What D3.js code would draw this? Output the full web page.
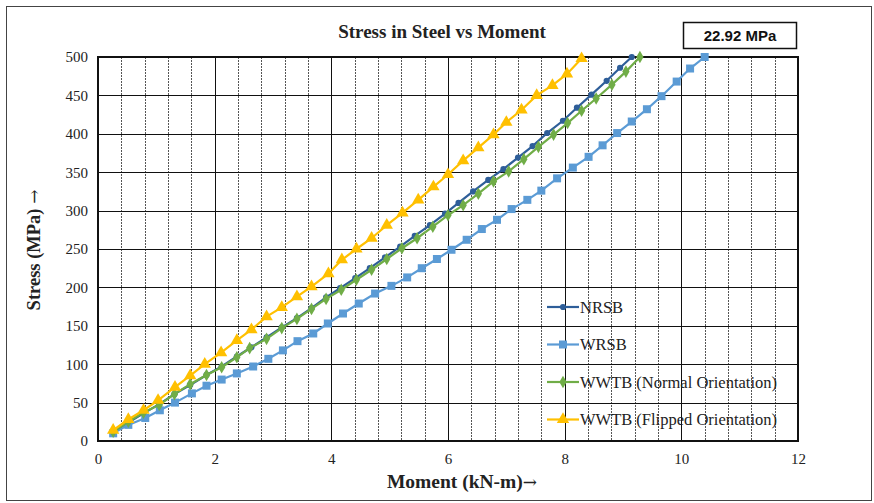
<!DOCTYPE html>
<html>
<head>
<meta charset="utf-8">
<script src="https://cdn.jsdelivr.net/npm/d3@7/dist/d3.min.js"></script>
<style>
    html, body { margin: 0; padding: 0; background: #fff; }
    svg { display: block; }
</style>
</head>
<body>
<div id="chart"></div>
<script>
(function () {

    'use strict';

    // < data >

    var seriesNames = ['NRSB', 'WRSB', 'WWTB (Normal Orientation)', 'WWTB (Flipped Orientation)'];

    var nrsbMoment = [0.26, 0.52, 0.78, 1.05, 1.31, 1.58, 1.86, 2.12, 2.38, 2.63, 2.89, 3.15, 3.41, 3.66, 3.91, 4.15, 4.41, 4.66, 4.92, 5.18, 5.43, 5.69, 5.95, 6.18, 6.43, 6.69, 6.95, 7.2, 7.45, 7.7, 7.97, 8.21, 8.46, 8.72, 8.95, 9.15];
    var nrsbStress = [12, 24, 36, 48, 61, 73, 86, 97, 110, 122, 135, 148, 160, 173, 187, 199, 212, 225, 239, 253, 267, 281, 296, 310, 325, 340, 354, 369, 384, 401, 417, 434, 451, 469, 486, 500];

    var wrsbMoment = [0.26, 0.52, 0.81, 1.06, 1.32, 1.61, 1.86, 2.12, 2.38, 2.66, 2.92, 3.17, 3.42, 3.69, 3.94, 4.2, 4.47, 4.75, 5.03, 5.3, 5.55, 5.81, 6.06, 6.32, 6.58, 6.84, 7.09, 7.36, 7.6, 7.87, 8.14, 8.41, 8.65, 8.9, 9.15, 9.41, 9.66, 9.92, 10.15, 10.4];
    var wrsbStress = [10, 21, 30, 40, 50, 62, 72, 80, 88, 97, 107, 118, 130, 140, 153, 166, 179, 192, 202, 213, 225, 237, 249, 262, 276, 288, 302, 314, 326, 342, 356, 370, 385, 401, 416, 432, 449, 468, 485, 500];

    var wwtbNormalMoment = [0.26, 0.52, 0.78, 1.05, 1.31, 1.58, 1.86, 2.12, 2.38, 2.6, 2.89, 3.15, 3.41, 3.66, 3.91, 4.17, 4.43, 4.69, 4.95, 5.21, 5.47, 5.74, 6.0, 6.26, 6.52, 6.78, 7.04, 7.3, 7.55, 7.81, 8.05, 8.29, 8.54, 8.81, 9.05, 9.29];
    var wwtbNormalStress = [12, 25, 37, 47, 61, 74, 86, 96, 109, 121, 133, 147, 159, 172, 185, 197, 210, 223, 237, 251, 264, 279, 294, 307, 322, 338, 351, 367, 383, 399, 414, 430, 446, 464, 481, 500];

    var wwtbFlippedMoment = [0.26, 0.52, 0.78, 1.03, 1.32, 1.58, 1.83, 2.11, 2.38, 2.63, 2.89, 3.15, 3.41, 3.66, 3.95, 4.18, 4.43, 4.69, 4.95, 5.22, 5.49, 5.75, 6.0, 6.26, 6.52, 6.78, 7.0, 7.26, 7.52, 7.79, 8.04, 8.29];
    var wwtbFlippedStress = [14, 28, 40, 53, 70, 85, 100, 115, 131, 145, 162, 174, 188, 201, 218, 236, 250, 264, 281, 297, 314, 331, 347, 365, 382, 399, 415, 431, 450, 463, 478, 498];

    var xTicks = [0, 2, 4, 6, 8, 10, 12];
    var yTicks = [0, 50, 100, 150, 200, 250, 300, 350, 400, 450, 500];
    var xMinorStep = 0.4;

    var titleText = 'Stress in Steel vs Moment';
    var boxText = '22.92 MPa';
    var xLabelText = 'Moment (kN-m)';
    var yLabelText = 'Stress (MPa) ';
    var arrowText = '\u2192';

    // < helping functions >

    var zip = function (xs, ys) {
        return xs.map(function (x, i) {
            return {x: x, y: ys[i]};
        });
    };

    var series = [
        {name: seriesNames[0], data: zip(nrsbMoment, nrsbStress), color: '#2E5E99', symbol: d3.symbolCircle, size: 30},
        {name: seriesNames[1], data: zip(wrsbMoment, wrsbStress), color: '#5B9BD5', symbol: d3.symbolSquare, size: 64},
        {name: seriesNames[2], data: zip(wwtbNormalMoment, wwtbNormalStress), color: '#70AD47', symbol: d3.symbolDiamond, size: 46},
        {name: seriesNames[3], data: zip(wwtbFlippedMoment, wwtbFlippedStress), color: '#FFC000', symbol: d3.symbolTriangle, size: 66}
    ];

    var width = 874;
    var height = 503;
    var serif = '"Liberation Serif", "Times New Roman", serif';

    var x = d3.scaleLinear().domain([0, 12]).range([98, 798]);
    var y = d3.scaleLinear().domain([0, 500]).range([441, 57]);

    var svg = d3.select('#chart')
        .append('svg')
            .attr('width', width)
            .attr('height', height);

    svg.append('rect')
        .attr('x', 6.5)
        .attr('y', 6.5)
        .attr('width', 865)
        .attr('height', 494)
        .attr('fill', '#fff')
        .attr('stroke', '#444')
        .attr('stroke-width', 1);

    // grid
    var minorValues = d3.range(1, Math.round(12 / xMinorStep)).map(function (i) {
        return +(i * xMinorStep).toFixed(1);
    });

    var gridG = svg.append('g');

    gridG.selectAll('line.v-grid')
        .data(minorValues)
        .enter()
        .append('line')
            .attr('class', 'v-grid')
            .attr('x1', function (d) { return Math.round(x(d)) + 0.5; })
            .attr('x2', function (d) { return Math.round(x(d)) + 0.5; })
            .attr('y1', y(500))
            .attr('y2', y(0))
            .attr('stroke', function (d) { return xTicks.indexOf(d) !== -1 ? '#111' : '#555'; })
            .attr('stroke-width', 1)
            .attr('stroke-dasharray', function (d) { return xTicks.indexOf(d) !== -1 ? null : '2,1'; });

    gridG.selectAll('line.h-grid')
        .data(yTicks.slice(1, -1))
        .enter()
        .append('line')
            .attr('class', 'h-grid')
            .attr('x1', x(0))
            .attr('x2', x(12))
            .attr('y1', function (d) { return Math.round(y(d)) + 0.5; })
            .attr('y2', function (d) { return Math.round(y(d)) + 0.5; })
            .attr('stroke', '#111')
            .attr('stroke-width', 1);

    svg.append('rect')
        .attr('x', x(0))
        .attr('y', y(500))
        .attr('width', x(12) - x(0))
        .attr('height', y(0) - y(500))
        .attr('fill', 'none')
        .attr('stroke', '#111')
        .attr('stroke-width', 2);

    // axes
    var xAxis = d3.axisBottom(x).tickValues(xTicks).tickSize(0).tickPadding(12);
    var yAxis = d3.axisLeft(y).tickValues(yTicks).tickSize(0).tickPadding(10);

    var xAxisG = svg.append('g')
        .attr('transform', 'translate(0,' + y(0) + ')')
        .call(xAxis);

    var yAxisG = svg.append('g')
        .attr('transform', 'translate(' + x(0) + ',0)')
        .call(yAxis);

    [xAxisG, yAxisG].forEach(function (g) {
        g.select('.domain').remove();
        g.selectAll('text')
            .style('font-family', serif)
            .style('font-size', '15px')
            .attr('fill', '#222');
    });

    // lines and markers
    var line = d3.line()
        .x(function (d) { return x(d.x); })
        .y(function (d) { return y(d.y); });

    var seriesG = svg.append('g');

    series.forEach(function (s) {

        var g = seriesG.append('g');

        g.append('path')
            .datum(s.data)
            .attr('d', line)
            .attr('fill', 'none')
            .attr('stroke', s.color)
            .attr('stroke-width', 2.2);

        g.selectAll('path.marker')
            .data(s.data)
            .enter()
            .append('path')
                .attr('class', 'marker')
                .attr('d', d3.symbol().type(s.symbol).size(s.size))
                .attr('transform', function (d) { return 'translate(' + x(d.x) + ',' + y(d.y) + ')'; })
                .attr('fill', s.color);
    });

    // legend
    var legendG = svg.append('g')
        .attr('transform', 'translate(547,307)');

    var legendItems = legendG.selectAll('g')
        .data(series)
        .enter()
        .append('g')
            .attr('transform', function (d, i) { return 'translate(0,' + (i * 37.5) + ')'; });

    legendItems.append('line')
        .attr('x1', 0)
        .attr('x2', 32)
        .attr('stroke', function (d) { return d.color; })
        .attr('stroke-width', 2.2);

    legendItems.append('path')
        .attr('d', function (d) { return d3.symbol().type(d.symbol).size(d.size)(); })
        .attr('transform', 'translate(16,0)')
        .attr('fill', function (d) { return d.color; });

    legendItems.append('text')
        .attr('x', 33)
        .attr('dy', '0.35em')
        .style('font-family', serif)
        .style('font-size', '16.5px')
        .attr('fill', '#222')
        .text(function (d) { return d.name; });

    // titles
    svg.append('text')
        .attr('x', 442)
        .attr('y', 38)
        .attr('text-anchor', 'middle')
        .style('font-family', serif)
        .style('font-size', '19px')
        .style('font-weight', 'bold')
        .attr('fill', '#222')
        .text(titleText);

    svg.append('rect')
        .attr('x', 683.5)
        .attr('y', 22.5)
        .attr('width', 113)
        .attr('height', 26)
        .attr('fill', '#fff')
        .attr('stroke', '#111')
        .attr('stroke-width', 1.5);

    svg.append('text')
        .attr('x', 740)
        .attr('y', 41)
        .attr('text-anchor', 'middle')
        .style('font-family', '"Liberation Sans", Arial, sans-serif')
        .style('font-size', '15px')
        .style('font-weight', 'bold')
        .attr('fill', '#111')
        .text(boxText);

    var xLabel = svg.append('text')
        .attr('x', 462)
        .attr('y', 488)
        .attr('text-anchor', 'middle')
        .style('font-family', serif)
        .style('font-size', '19.5px')
        .style('font-weight', 'bold')
        .attr('fill', '#222');

    xLabel.append('tspan').text(xLabelText);
    xLabel.append('tspan')
        .style('font-family', '"DejaVu Serif", serif')
        .style('font-size', '17px')
        .style('font-weight', 'normal')
        .text(arrowText);

    var yLabel = svg.append('text')
        .attr('transform', 'translate(40,250) rotate(-90)')
        .attr('text-anchor', 'middle')
        .style('font-family', serif)
        .style('font-size', '18.5px')
        .style('font-weight', 'bold')
        .attr('fill', '#222');

    yLabel.append('tspan').text(yLabelText);
    yLabel.append('tspan')
        .style('font-family', '"DejaVu Serif", serif')
        .style('font-size', '17px')
        .style('font-weight', 'normal')
        .text(arrowText);

}());
</script>
</body>
</html>
